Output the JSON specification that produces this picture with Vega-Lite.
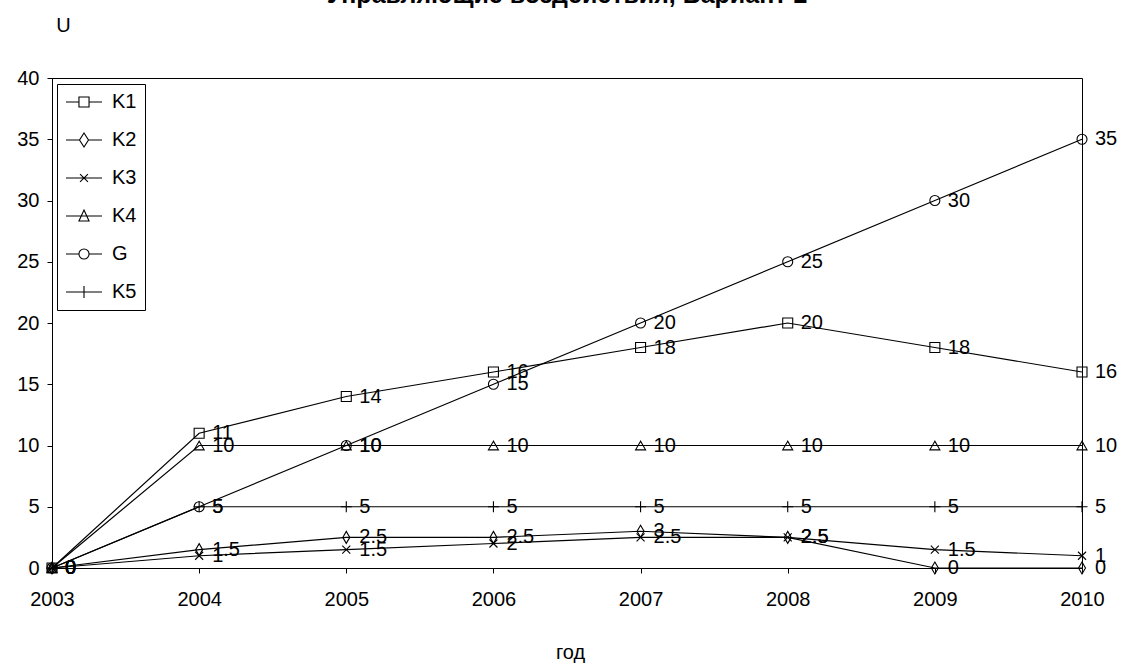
{
  "$schema": "https://vega.github.io/schema/vega-lite/v6.json",
  "autosize": "none",
  "width": 1030,
  "height": 490,
  "padding": {"left": 52, "top": 78, "right": 43, "bottom": 96},
  "background": "white",
  "title": {
    "text": "Управляющие воздействия, Вариант 2",
    "fontSize": 25,
    "fontWeight": "bold",
    "font": "Liberation Sans",
    "color": "black",
    "anchor": "middle",
    "baseline": "alphabetic",
    "offset": 8,
    "dy": 21
  },
  "config": {
    "font": "Liberation Sans",
    "view": {"stroke": "black", "strokeWidth": 1},
    "axis": {"grid": false, "domainColor": "black", "tickColor": "black", "labelColor": "black", "titleColor": "black", "labelFontSize": 20, "titleFontSize": 20, "titleFontWeight": "normal", "labelFont": "Liberation Sans", "titleFont": "Liberation Sans"}
  },
  "data": {
    "values": [
      {"year": "2003", "series": "K1", "value": 0},
      {"year": "2004", "series": "K1", "value": 11},
      {"year": "2005", "series": "K1", "value": 14},
      {"year": "2006", "series": "K1", "value": 16},
      {"year": "2007", "series": "K1", "value": 18},
      {"year": "2008", "series": "K1", "value": 20},
      {"year": "2009", "series": "K1", "value": 18},
      {"year": "2010", "series": "K1", "value": 16},
      {"year": "2003", "series": "K2", "value": 0},
      {"year": "2004", "series": "K2", "value": 1.5},
      {"year": "2005", "series": "K2", "value": 2.5},
      {"year": "2006", "series": "K2", "value": 2.5},
      {"year": "2007", "series": "K2", "value": 3},
      {"year": "2008", "series": "K2", "value": 2.5},
      {"year": "2009", "series": "K2", "value": 0},
      {"year": "2010", "series": "K2", "value": 0},
      {"year": "2003", "series": "K3", "value": 0},
      {"year": "2004", "series": "K3", "value": 1},
      {"year": "2005", "series": "K3", "value": 1.5},
      {"year": "2006", "series": "K3", "value": 2},
      {"year": "2007", "series": "K3", "value": 2.5},
      {"year": "2008", "series": "K3", "value": 2.5},
      {"year": "2009", "series": "K3", "value": 1.5},
      {"year": "2010", "series": "K3", "value": 1},
      {"year": "2003", "series": "K4", "value": 0},
      {"year": "2004", "series": "K4", "value": 10},
      {"year": "2005", "series": "K4", "value": 10},
      {"year": "2006", "series": "K4", "value": 10},
      {"year": "2007", "series": "K4", "value": 10},
      {"year": "2008", "series": "K4", "value": 10},
      {"year": "2009", "series": "K4", "value": 10},
      {"year": "2010", "series": "K4", "value": 10},
      {"year": "2003", "series": "G", "value": 0},
      {"year": "2004", "series": "G", "value": 5},
      {"year": "2005", "series": "G", "value": 10},
      {"year": "2006", "series": "G", "value": 15},
      {"year": "2007", "series": "G", "value": 20},
      {"year": "2008", "series": "G", "value": 25},
      {"year": "2009", "series": "G", "value": 30},
      {"year": "2010", "series": "G", "value": 35},
      {"year": "2003", "series": "K5", "value": 0},
      {"year": "2004", "series": "K5", "value": 5},
      {"year": "2005", "series": "K5", "value": 5},
      {"year": "2006", "series": "K5", "value": 5},
      {"year": "2007", "series": "K5", "value": 5},
      {"year": "2008", "series": "K5", "value": 5},
      {"year": "2009", "series": "K5", "value": 5},
      {"year": "2010", "series": "K5", "value": 5}
    ]
  },
  "encoding": {
    "x": {
      "field": "year", "type": "ordinal",
      "scale": {"type": "point", "padding": 0},
      "axis": {"labelAngle": 0, "tickSize": 5, "labelPadding": 16, "title": "год", "titleX": 518, "titleY": 84, "titleBaseline": "middle", "titleAnchor": "start", "titleAlign": "center"}
    },
    "y": {
      "field": "value", "type": "quantitative",
      "scale": {"domain": [0, 40], "nice": false},
      "axis": {"values": [0, 5, 10, 15, 20, 25, 30, 35, 40], "tickSize": 5, "labelPadding": 8, "title": "U", "titleAngle": 0, "titleX": 11, "titleY": -53, "titleAlign": "center", "titleBaseline": "middle", "titleAnchor": "start"}
    }
  },
  "resolve": {"scale": {"shape": "independent"}, "legend": {"shape": "independent"}},
  "layer": [
    {
      "mark": {"type": "line", "color": "black", "strokeWidth": 1.2},
      "encoding": {"detail": {"field": "series"}}
    },
    {
      "mark": {"type": "point", "filled": false, "color": "black", "strokeWidth": 1.1, "size": 100, "opacity": 1},
      "encoding": {
        "shape": {
          "field": "series", "type": "nominal",
          "scale": {
            "domain": ["K1", "K2", "K3", "K4", "G", "K5"],
            "range": ["square", "M0,-1.2L0.7,0L0,1.2L-0.7,0Z", "M-0.8,-0.8L0.8,0.8M-0.8,0.8L0.8,-0.8", "triangle-up", "circle", "M-1.1,0H1.1M0,-1.1V1.1"]
          },
          "legend": null
        }
      }
    },
    {
      "transform": [{"filter": "false"}],
      "mark": {"type": "point", "filled": false, "color": "black", "strokeWidth": 1.1, "opacity": 1},
      "encoding": {
        "shape": {
          "field": "series", "type": "nominal",
          "scale": {
            "domain": ["K1", "K2", "K3", "K4", "G", "K5"],
            "range": [
              "M-1,0H0.44M1.56,0H3M0.44,-0.56H1.56V0.56H0.44Z",
              "M-1,0H0.5M1.5,0H3M1,-0.78L1.5,0L1,0.78L0.5,0Z",
              "M-1,0H3M0.56,-0.44L1.44,0.44M0.56,0.44L1.44,-0.44",
              "M-1,0H3M1,-0.67L1.56,0.56H0.44Z",
              "M-1,0H0.44M1.56,0H3M0.44,0A0.56,0.56,0,1,0,1.56,0A0.56,0.56,0,1,0,0.44,0Z",
              "M-1,0H3M1,-0.67V0.67"
            ]
          },
          "legend": {
            "title": null,
            "orient": "none",
            "legendX": 5,
            "legendY": 6,
            "direction": "vertical",
            "fillColor": "white",
            "strokeColor": "black",
            "padding": 8,
            "symbolSize": 324,
            "symbolStrokeColor": "black",
            "symbolStrokeWidth": 1.1,
            "symbolFillColor": "transparent",
            "symbolOpacity": 1,
            "labelFontSize": 20,
            "labelColor": "black",
            "labelFont": "Liberation Sans",
            "labelOffset": 27,
            "rowPadding": 18
          }
        }
      }
    },
    {
      "mark": {"type": "text", "align": "left", "baseline": "middle", "dx": 13, "fontSize": 20, "font": "Liberation Sans", "color": "black"},
      "encoding": {"text": {"field": "value", "type": "quantitative"}}
    }
  ]
}
